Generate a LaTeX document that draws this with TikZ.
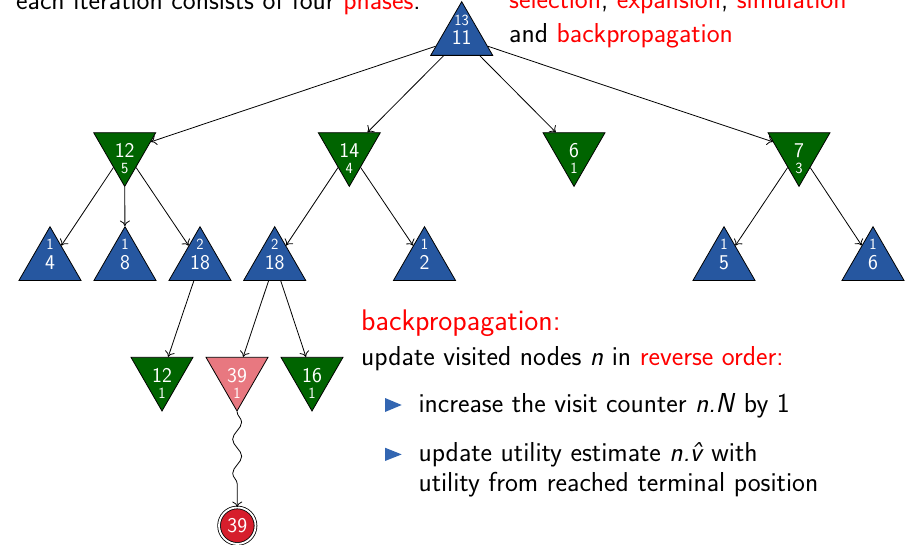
\documentclass[tikz,border=0pt]{standalone}
\usetikzlibrary{shapes.geometric,arrows.meta,decorations.pathmorphing}
\definecolor{nodeblue}{RGB}{38,87,160}
\definecolor{nodegreen}{RGB}{0,100,0}
\definecolor{nodepink}{RGB}{232,120,128}
\definecolor{termred}{RGB}{214,30,44}
\definecolor{alertred}{RGB}{255,0,0}
\definecolor{bulletblue}{RGB}{51,102,178}
\newcommand{\rd}[1]{\textcolor{alertred}{#1}}
\begin{document}
\begin{tikzpicture}[x=1pt,y=-1pt,
  tri/.style={regular polygon, regular polygon sides=3, minimum size=71.6pt, inner sep=0pt,
    draw=black, line width=0.8pt, text=white, font=\sffamily\fontsize{21}{21}\selectfont},
  upnode/.style={tri, fill=nodeblue},
  downnode/.style={tri, shape border rotate=180, fill=nodegreen},
  pinknode/.style={tri, shape border rotate=180, fill=nodepink},
  sml/.style={text=white, inner sep=0pt, font=\sffamily\fontsize{15.5}{15.5}\selectfont},
  term/.style={circle, minimum size=36.5pt, inner sep=0pt, fill=termred, draw=black,
    line width=0.8pt, double=white, double distance=1.9pt, text=white,
    font=\sffamily\fontsize{21}{21}\selectfont},
  edge/.style={-{To[length=5.5pt,width=10pt]}, line width=0.8pt},
  wavy/.style={-{To[length=5.5pt,width=10pt]}, line width=0.8pt, decorate,
    decoration={snake, amplitude=4.5pt, segment length=34pt, post length=16pt}},
  txt/.style={anchor=base west, inner sep=0pt, text=black, font=\sffamily\fontsize{27.4}{30.7}\selectfont},
  bigtxt/.style={anchor=base west, inner sep=0pt, text=alertred, font=\sffamily\fontsize{29.8}{33}\selectfont},
  bullet/.style={fill=bulletblue}
]
\useasboundingbox (0,0) rectangle (917,545);

% texts
\node[txt] (t1) at (16,10) {each iteration consists of four \rd{phases}:};
\node[txt] (t2) at (509,9) {\rd{selection}, \rd{expansion}, \rd{simulation}};
\node[txt] (t3) at (509,42.7) {and \rd{backpropagation}};
\node[bigtxt] (h) at (361,330) {backpropagation:};
\node[txt] (u) at (361,365) {update visited nodes \textit{n} in \rd{reverse order:}};
\node[txt] (i1) at (418.3,412.3) {increase the visit counter \textit{n.N} by 1};
\node[txt] (i2) at (418.3,461.7) {update utility estimate \textit{n.\^{v}} with};
\node[txt] (i3) at (418.3,491.7) {utility from reached terminal position};
\fill[bullet] (385,398) -- (401.7,405) -- (385,412) -- cycle;
\fill[bullet] (385,447.7) -- (401.7,454.4) -- (385,461) -- cycle;

% tree
\node[upnode, label={[sml,yshift=17pt]center:13}] (root) at (461.7,37.5) {11};

\node[downnode, label={[sml,yshift=-18pt]center:5}] (a) at (124.7,150.6) {12};
\node[downnode, label={[sml,yshift=-18pt]center:4}] (b) at (349.3,150.6) {14};
\node[downnode, label={[sml,yshift=-18pt]center:1}] (c) at (574,150.6) {6};
\node[downnode, label={[sml,yshift=-18pt]center:3}] (d) at (799,150.6) {7};

\node[upnode, label={[sml,yshift=18.5pt]center:1}] (a1) at (50,262.5) {4};
\node[upnode, label={[sml,yshift=18.5pt]center:1}] (a2) at (125,262.5) {8};
\node[upnode, label={[sml,yshift=18.5pt]center:2}] (a3) at (200,262.5) {18};
\node[upnode, label={[sml,yshift=18.5pt]center:2}] (b1) at (274.7,262.5) {18};
\node[upnode, label={[sml,yshift=18.5pt]center:1}] (b2) at (424.5,262.5) {2};
\node[upnode, label={[sml,yshift=18.5pt]center:1}] (d1) at (724,262.5) {5};
\node[upnode, label={[sml,yshift=18.5pt]center:1}] (d2) at (873,262.5) {6};

\node[downnode, label={[sml,yshift=-18pt]center:1}] (e1) at (162,375.2) {12};
\node[pinknode, label={[sml,yshift=-18pt]center:1}] (f1) at (237,375.2) {39};
\node[downnode, label={[sml,yshift=-18pt]center:1}] (f2) at (312,375.2) {16};

\node[term] (t) at (237.3,525.7) {39};

\draw[edge] (root) -- (a);
\draw[edge] (root) -- (b);
\draw[edge] (root) -- (c);
\draw[edge] (root) -- (d);
\draw[edge] (a) -- (a1);
\draw[edge] (a) -- (a2);
\draw[edge] (a) -- (a3);
\draw[edge] (b) -- (b1);
\draw[edge] (b) -- (b2);
\draw[edge] (d) -- (d1);
\draw[edge] (d) -- (d2);
\draw[edge] (a3) -- (e1);
\draw[edge] (b1) -- (f1);
\draw[edge] (b1) -- (f2);
\draw[wavy] (f1) -- (t);
\end{tikzpicture}
\end{document}
